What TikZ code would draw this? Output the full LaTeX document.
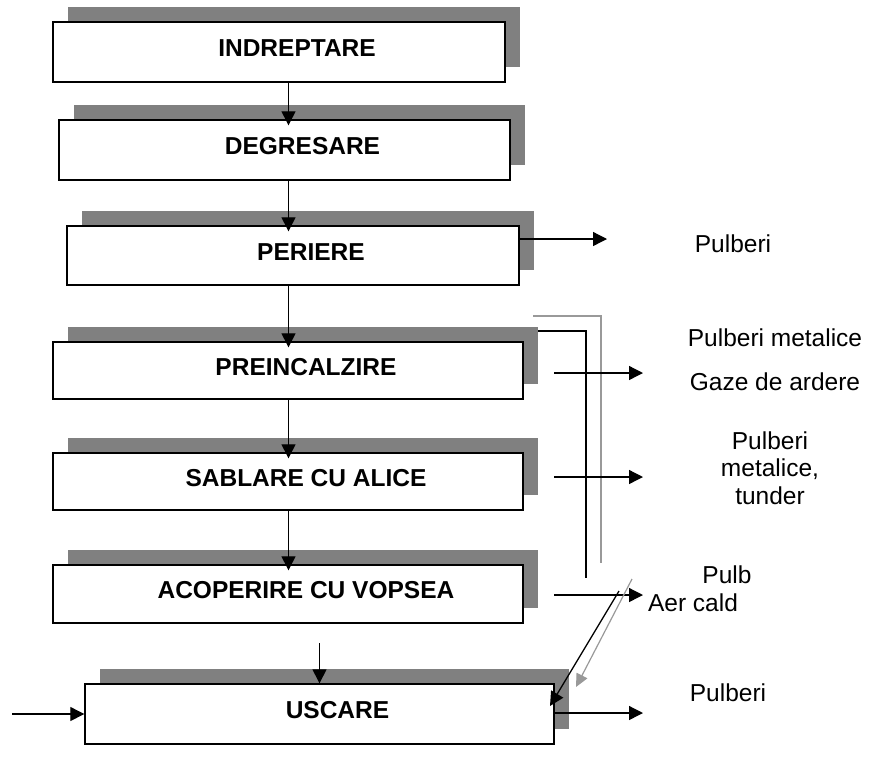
\documentclass[tikz,border=0pt]{standalone}
\usepackage{fontspec}
\setmainfont{Liberation Sans}
\usetikzlibrary{arrows.meta}
\usetikzlibrary{shadows}
\tikzset{stepbox/.style = {draw, fill = white, line width = 1.4pt, inner sep = 0,
    drop shadow = {shadow xshift = 15pt, shadow yshift = 15pt, opacity = 1, fill = gray}}}
\tikzset{boxlabel/.style = {font = \bfseries\fontsize{24.5}{29}\selectfont, xshift = 18pt, yshift = 3.5pt}}
\tikzset{outlabel/.style = {font = \fontsize{24.5}{27.5}\selectfont, align = center, inner sep = 0}}
\tikzset{flow/.style = {line width = 1.3pt, -{Triangle[length = 14pt, width = 14pt]}}}
\tikzset{vflow/.style = {flow, shorten > = -6pt}}
\tikzset{pipe/.style = {draw = black!40, line width = 1.2pt}}

\begin{document}
\begin{tikzpicture}[x = 1pt, y = -1pt]
    \useasboundingbox (0, 0) rectangle (869, 772);
    \node [stepbox, minimum width = 452pt, minimum height = 60pt, label = {[boxlabel]center:INDREPTARE}] (indr) at (279, 52) {};
    \node [stepbox, minimum width = 451pt, minimum height = 60pt, label = {[boxlabel]center:DEGRESARE}] (degr) at (284.5, 150) {};
    \node [stepbox, minimum width = 452pt, minimum height = 59pt, label = {[boxlabel]center:PERIERE}] (perie) at (293, 255.5) {};
    \node [stepbox, minimum width = 470pt, minimum height = 57pt, label = {[boxlabel]center:PREINCALZIRE}] (prein) at (288, 370.5) {};
    \node [stepbox, minimum width = 470pt, minimum height = 57pt, label = {[boxlabel]center:SABLARE CU ALICE}] (sabl) at (288, 481.5) {};
    \node [stepbox, minimum width = 470pt, minimum height = 58pt, label = {[boxlabel]center:ACOPERIRE CU VOPSEA}] (acop) at (288, 594) {};
    \node [stepbox, minimum width = 469pt, minimum height = 60pt, label = {[boxlabel]center:USCARE}] (usc) at (319.5, 714) {};

    \coordinate (axis) at (288.5, 0);
    \draw [vflow] (indr.south -| axis) -- (degr.north -| axis);
    \draw [vflow] (degr.south -| axis) -- (perie.north -| axis);
    \draw [vflow] (perie.south -| axis) -- (prein.north -| axis);
    \draw [vflow] (prein.south -| axis) -- (sabl.north -| axis);
    \draw [vflow] (sabl.south -| axis) -- (acop.north -| axis);
    \draw [flow] ([yshift = 40pt]usc.north) -- (usc.north);
    \draw [flow] ([xshift = -72pt]usc.west) -- (usc.west);

    \draw [pipe] (533, 316) -- (601, 316) -- (601, 563);
    \draw [line width = 1.3pt] (538, 331) -- (586, 331) -- (586, 578);

    \node [outlabel] (pul3) at (733, 244) {Pulberi};
    \node [outlabel] (met4) at (775, 338) {Pulberi metalice};
    \node [outlabel] (gaz4) at (775, 382) {Gaze de ardere};
    \node [outlabel] (met5) at (770, 468) {Pulberi\\metalice,\\tunder};
    \node [outlabel] (pul6) at (727, 575) {Pulb};
    \node [outlabel] (aer6) at (693, 603) {Aer cald};
    \node [outlabel] (pul7) at (728, 693) {Pulberi};

    \coordinate (out3) at (607, 239);
    \coordinate (out4) at (643, 373);
    \coordinate (out5) at (643, 477);
    \coordinate (out6) at (643, 595);
    \coordinate (out7) at (643, 713);
    \draw [flow] (perie.east |- out3) -- (out3);
    \draw [flow] ([xshift = -89pt]out4) -- (out4);
    \draw [flow] ([xshift = -89pt]out5) -- (out5);
    \draw [flow] ([xshift = -89pt]out6) -- (out6);
    \draw [flow] (usc.east |- out7) -- (out7);

    \coordinate (hot1) at (632, 579);
    \coordinate (hot2) at (576, 687);
    \coordinate (air1) at (619, 591);
    \coordinate (air2) at (550, 706);
    \draw [pipe, -{Triangle[length = 13pt, width = 12pt]}, color = black!40] (hot1) -- (hot2);
    \draw [flow] (air1) -- (air2);
\end{tikzpicture}
\end{document}
